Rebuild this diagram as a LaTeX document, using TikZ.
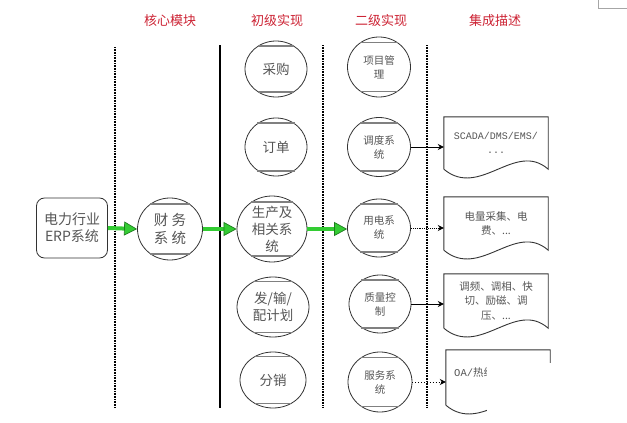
\documentclass[tikz,border=0pt]{standalone}
\usepackage{fontspec}
\setmainfont{Noto Sans CJK SC}
\newfontfamily\monofnt{Liberation Mono}
\usetikzlibrary{shapes.geometric,arrows.meta,calc}
\definecolor{hdr}{HTML}{CC2233}
\definecolor{txt}{HTML}{555555}
\definecolor{ln}{HTML}{333333}
\definecolor{grn}{HTML}{33CC33}
\definecolor{dgrn}{HTML}{1E7A1E}
\newcommand\docpath[1]{\draw[docline] (#1.south west) -- (#1.north west) -- (#1.north east) -- (#1.south east) .. controls ($(#1.south east)+(-33,-29)$) and ($(#1.south west)+(36,30)$) .. (#1.south west);}
\begin{document}
\begin{tikzpicture}[x=1pt,y=-1pt,
  hd/.style={text=hdr,font=\fontsize{13}{13}\selectfont},
  orb/.style={ellipse,draw=ln,line width=0.8pt,inner sep=0pt,align=center,text=txt},
  big/.style={font=\fontsize{13.5}{17}\selectfont},
  small/.style={font=\fontsize{10.5}{14}\selectfont},
  chord/.style={draw=gray,line width=1.6pt},
  doc/.style={rectangle,draw=none,inner sep=0pt,align=center,text=txt,font=\fontsize{10.5}{14.5}\selectfont},
  docline/.style={draw=ln,line width=0.9pt},
  garrow/.style={draw=grn,line width=4pt,-{Triangle[length=13pt,width=14pt,fill=grn,color=dgrn,line width=0.7pt]}},
  barrow/.style={draw=black,line width=0.9pt,-{Stealth[length=6pt,width=6pt]}},
  vdot/.style={draw=black,line width=1.4pt,dash pattern=on 1pt off 0.6pt}
]
\useasboundingbox (0,0) rectangle (627,423);
% headers
\node[hd] (h1) at (170,21) {核心模块};
\node[hd] (h2) at (277,21) {初级实现};
\node[hd] (h3) at (381,21) {二级实现};
\node[hd] (h4) at (495,21) {集成描述};
% vertical lines
\coordinate (v1t) at (115,47); \coordinate (v1b) at (115,408);
\coordinate (v2t) at (220,45); \coordinate (v2b) at (220,408);
\coordinate (v3t) at (323,45); \coordinate (v3b) at (323,408);
\coordinate (v4t) at (427,45); \coordinate (v4b) at (427,408);
\draw[vdot,line width=2.6pt] (v1t) -- (v1b);
\draw[black,line width=1.5pt] (v2t) -- (v2b);
\draw[vdot] (v3t) -- (v3b);
\draw[vdot] (v4t) -- (v4b);
% left
\node[rectangle,rounded corners=8pt,draw=ln,line width=0.8pt,minimum width=71pt,minimum height=60pt,align=center,text=txt,font=\fontsize{14}{17}\selectfont] (erp) at (72,228) {电力行业\\ERP系统};
\node[orb,minimum width=65pt,minimum height=62pt,font=\fontsize{14.5}{18}\selectfont] (fin) at (170,229) {财 务\\系 统};
% column 2
\node[orb,big,minimum width=62pt,minimum height=56pt] (c1) at (276,69) {采购};
\node[orb,big,minimum width=62pt,minimum height=58pt] (c2) at (276,147) {订单};
\node[orb,big,minimum width=70pt,minimum height=66pt] (c3) at (272,229) {生产及\\相关系\\统};
\node[orb,big,minimum width=72pt,minimum height=60pt] (c4) at (273,307) {发/输/\\配计划};
\node[orb,big,minimum width=66pt,minimum height=56pt] (c5) at (273,380) {分销};
% column 3
\node[orb,small,minimum width=63pt,minimum height=60pt] (s1) at (379,67) {项目管\\理};
\node[orb,small,minimum width=63pt,minimum height=59pt] (s2) at (379,147) {调度系\\统};
\node[orb,small,minimum width=63pt,minimum height=58pt] (s3) at (379,228) {用电系\\统};
\node[orb,small,minimum width=62pt,minimum height=58pt] (s4) at (380,304) {质量控\\制};
\node[orb,small,minimum width=64pt,minimum height=60pt] (s5) at (380,382) {服务系\\统};
\foreach \n in {fin,c1,c2,c3,c4,c5,s1,s2,s3,s4,s5}
  \draw[chord] (\n.52) -- (\n.128) (\n.232) -- (\n.308);
% documents
\node[doc,minimum width=104pt,minimum height=52pt] (d1) at (496,143) {{\monofnt\fontsize{10}{14.5}\selectfont SCADA/DMS/EMS/}\\{\monofnt\fontsize{10}{14.5}\selectfont ...}};
\node[doc,minimum width=104pt,minimum height=53pt] (d2) at (496,223.5) {电量采集、电\\费、...};
\node[doc,minimum width=104pt,minimum height=54pt] (d3) at (496,301) {调频、调相、快\\切、励磁、调\\压、...};
\node[doc,minimum width=104pt,minimum height=55pt] (d4) at (498,377.5) {};
\node[anchor=west,text=txt,inner sep=0pt,font=\fontsize{10.5}{13}\selectfont] (t4) at (454,373) {{\monofnt OA/}热线};
\docpath{d1}
\docpath{d2}
\docpath{d3}
\docpath{d4}
% arrows
\draw[garrow] (erp.east) -- (fin.west);
\draw[garrow] (fin.east) -- (c3.west);
\draw[garrow] (c3.east) -- (c3.east -| s3.west);
\draw[barrow] (s2.east) -- (s2.east -| d1.west);
\draw[barrow,densely dotted] (s3.east) -- (s3.east -| d2.west);
\draw[barrow] (s4.east) -- (s4.east -| d3.west);
\draw[barrow,dotted] (s5.east) -- (s5.east -| d4.west);
% cover and corner mark
\fill[white] (487,363) rectangle (560,423);
\draw[gray!70,line width=0.8pt] (598,0) -- (598,8) -- (627,8);
\end{tikzpicture}
\end{document}
